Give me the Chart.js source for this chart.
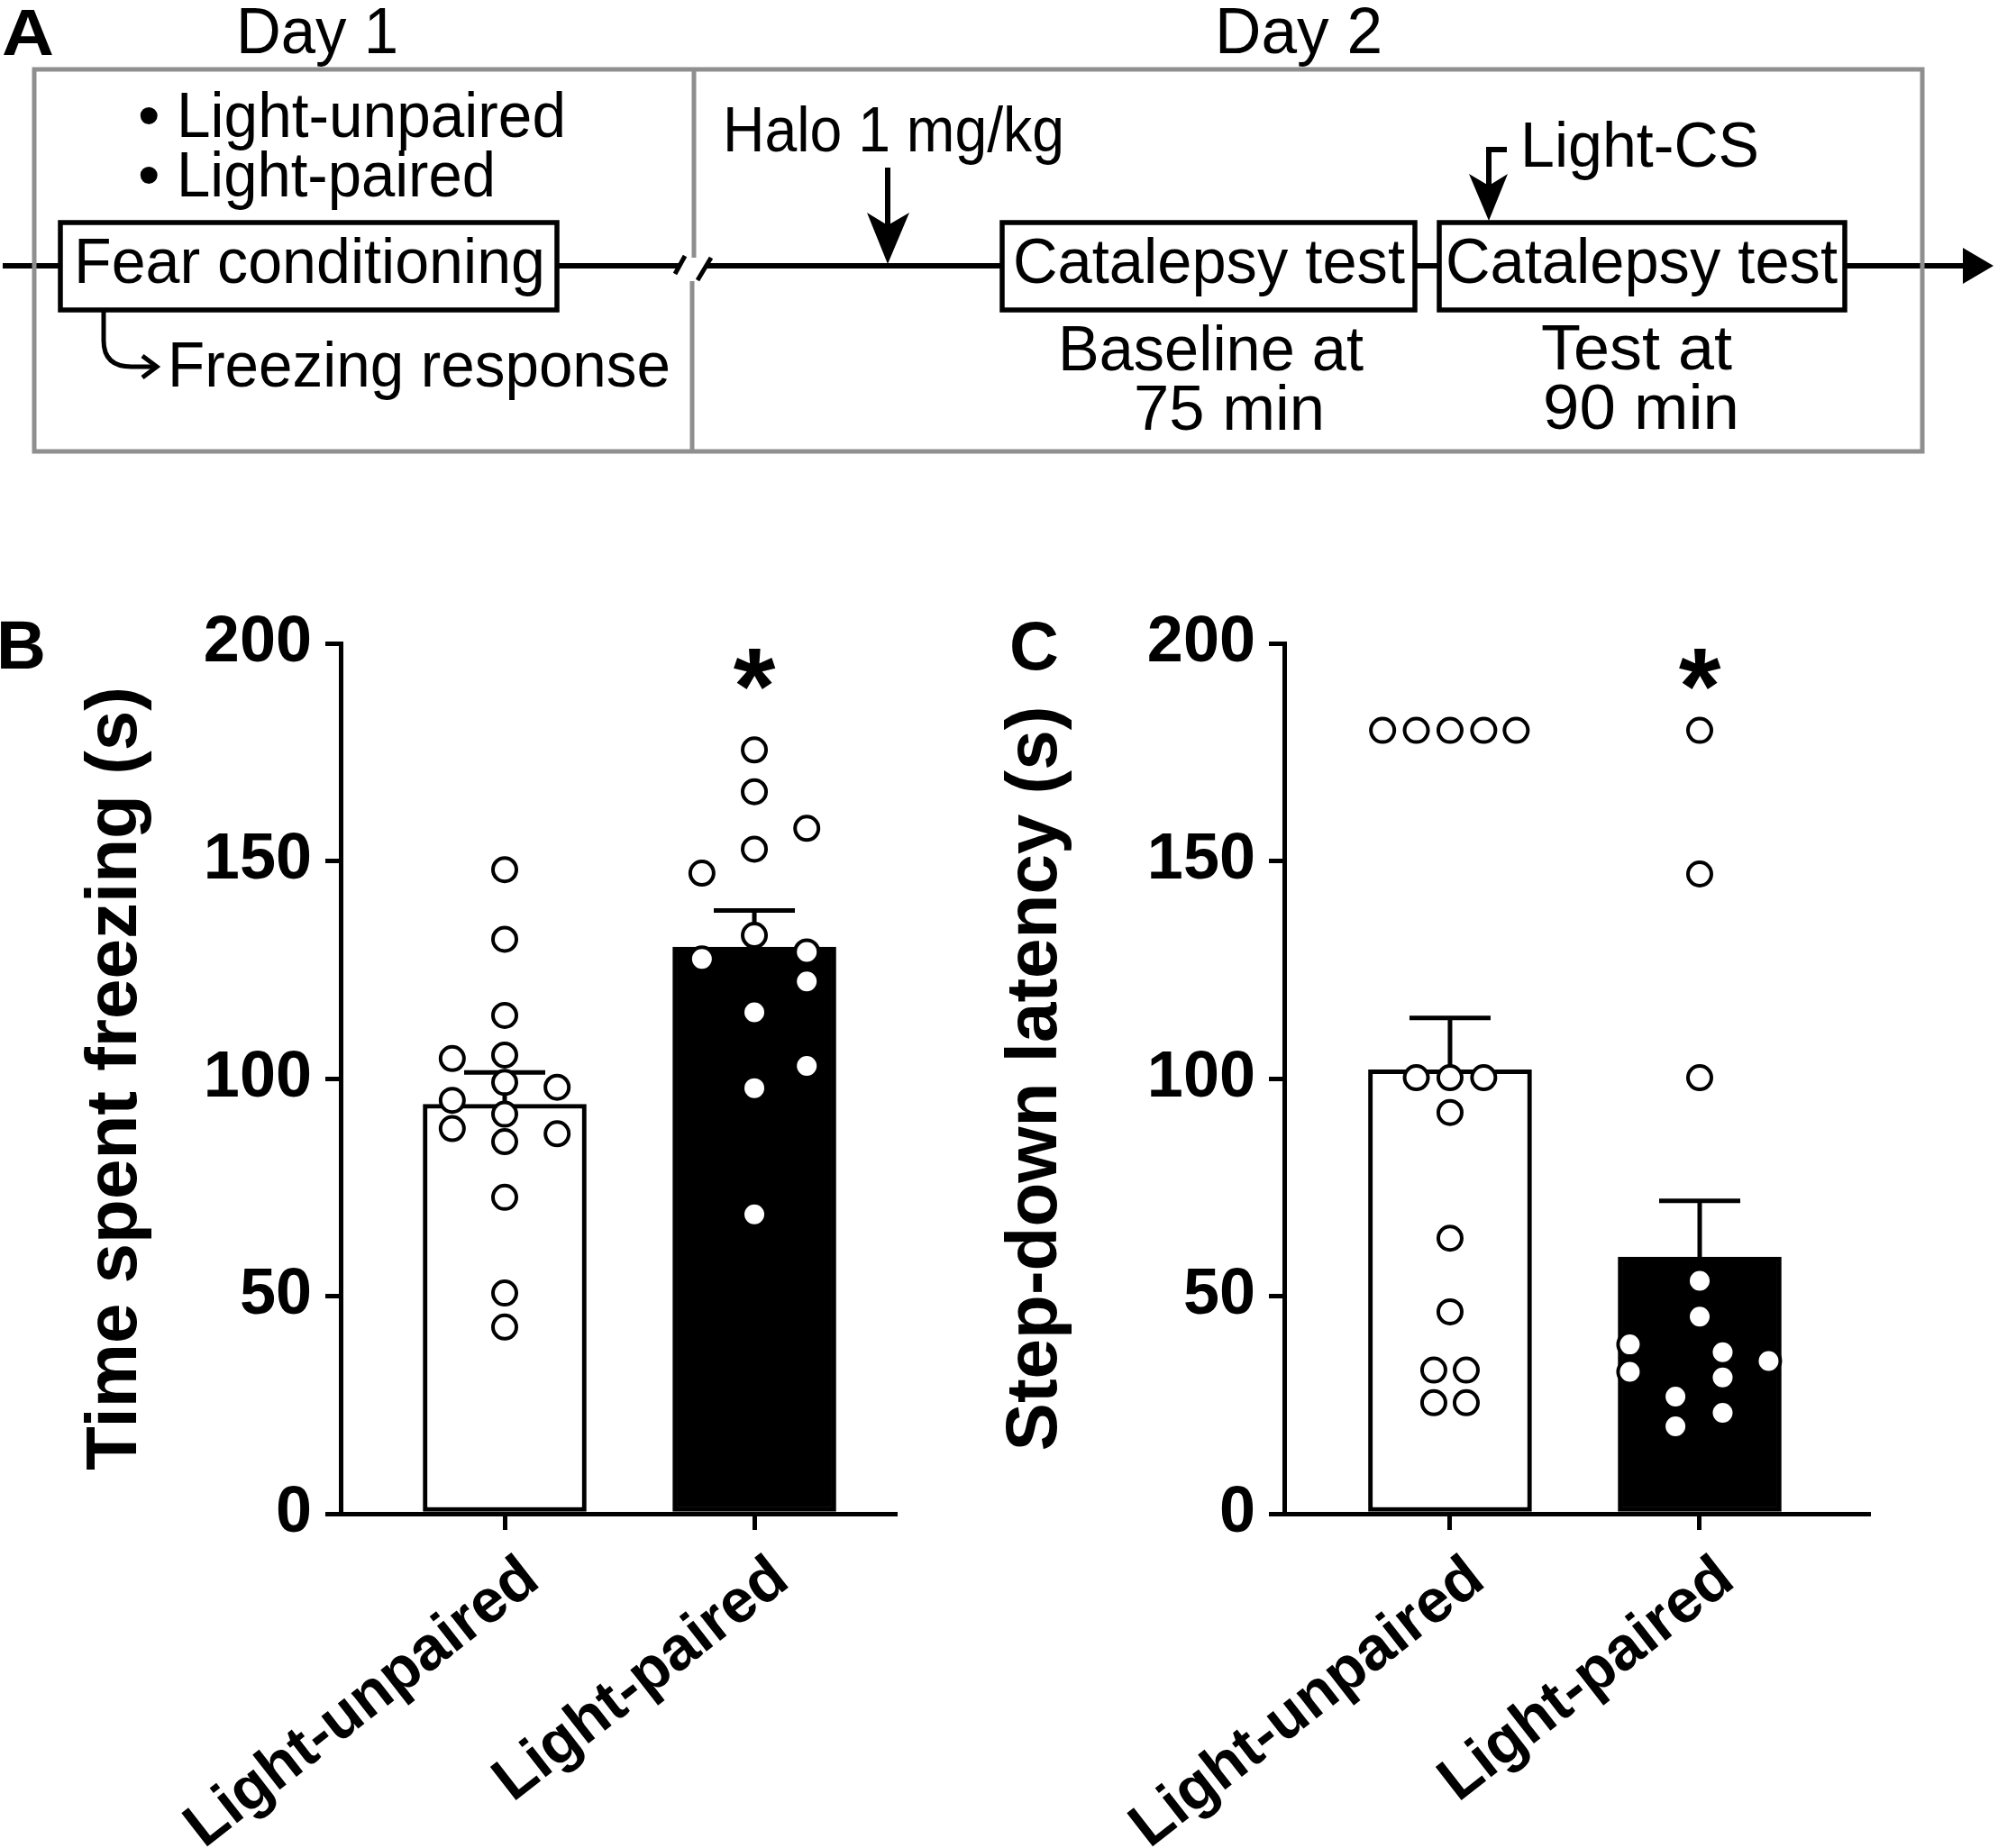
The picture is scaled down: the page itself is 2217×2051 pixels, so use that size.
<!DOCTYPE html>
<html>
<head>
<meta charset="utf-8">
<title>Light-CS fear conditioning and catalepsy</title>
<script src="https://cdn.jsdelivr.net/npm/chart.js@4.4.1/dist/chart.umd.min.js"></script>
<style>
  html, body { margin: 0; padding: 0; background: #fff; }
  #page { position: relative; width: 2217px; height: 2051px; overflow: hidden; }
  #schematic { position: absolute; left: 0; top: 0; font-family: "Liberation Sans", Arial, sans-serif; }
  .panel { position: absolute; top: 600px; }
  #freezeChart { left: 0; }
  #latencyChart { left: 1020px; }
</style>
</head>
<body>
<div id="page">
<svg id="schematic" width="2217" height="2051" xmlns="http://www.w3.org/2000/svg">
  <!-- timeline -->
  <g fill="none" stroke="#000" stroke-width="6">
    <path d="M3 295 H67 M618 295 H753 M784 295 H1112 M1570 295 H1597 M2047 295 H2182"/>
    <path d="M749 304 L760 284 M774 311 L789 286" stroke-width="5"/>
    <rect x="67" y="247" width="551" height="97" stroke-width="5.5"/>
    <rect x="1112" y="247" width="458" height="97" stroke-width="5.5"/>
    <rect x="1597" y="247" width="450" height="97" stroke-width="5.5"/>
    <path d="M115 344 V378 Q115 407 146 407 H172" stroke-width="5"/>
    <path d="M158 395 L174 407 L158 419" stroke-width="5"/>
    <path d="M985 186 V252"/>
    <path d="M1672 166 H1652 V208"/>
  </g>
  <g fill="#000">
    <path d="M2212 295 L2178 275 L2178 315 Z"/>
    <path d="M985 293 L962 236 L985 250 L1009 236 Z"/>
    <path d="M1652 245 L1630 193 L1652 206 L1673 193 Z"/>
  </g>
  <!-- day frames -->
  <g fill="none" stroke="#8f8f8f" stroke-width="5">
    <rect x="38" y="77" width="2095" height="424"/>
    <path d="M770 77 V286 M768 312 V501"/>
  </g>
  <g fill="#000" font-size="70">
    <text x="2" y="61" font-weight="bold" font-size="72" textLength="58" lengthAdjust="spacingAndGlyphs">A</text>
    <text x="262" y="59" font-size="72" textLength="180" lengthAdjust="spacingAndGlyphs">Day 1</text>
    <text x="1348" y="59" font-size="72" textLength="186" lengthAdjust="spacingAndGlyphs">Day 2</text>
    <text x="153" y="152">•</text>
    <text x="196" y="152" textLength="432" lengthAdjust="spacingAndGlyphs">Light-unpaired</text>
    <text x="153" y="218">•</text>
    <text x="196" y="218" textLength="354" lengthAdjust="spacingAndGlyphs">Light-paired</text>
    <text x="82" y="314" textLength="523" lengthAdjust="spacingAndGlyphs">Fear conditioning</text>
    <text x="186" y="429" textLength="558" lengthAdjust="spacingAndGlyphs">Freezing response</text>
    <text x="802" y="168" textLength="379" lengthAdjust="spacingAndGlyphs">Halo 1 mg/kg</text>
    <text x="1124" y="314" textLength="435" lengthAdjust="spacingAndGlyphs">Catalepsy test</text>
    <text x="1604" y="314" textLength="435" lengthAdjust="spacingAndGlyphs">Catalepsy test</text>
    <text x="1687" y="185" textLength="265" lengthAdjust="spacingAndGlyphs">Light-CS</text>
    <text x="1174" y="411" textLength="339" lengthAdjust="spacingAndGlyphs">Baseline at</text>
    <text x="1258" y="477" textLength="212" lengthAdjust="spacingAndGlyphs">75 min</text>
    <text x="1710" y="410" textLength="212" lengthAdjust="spacingAndGlyphs">Test at</text>
    <text x="1712" y="476" textLength="218" lengthAdjust="spacingAndGlyphs">90 min</text>
    <text x="-4" y="742" font-weight="bold" font-size="76">B</text>
    <text x="1120" y="743" font-weight="bold" font-size="76">C</text>
  </g>
</svg>
<canvas id="freezeChart" class="panel" width="1020" height="1451"></canvas>
<canvas id="latencyChart" class="panel" width="1100" height="1451"></canvas>
</div>
<script>
const groups = ['Light-unpaired', 'Light-paired'];
const groupPositions = [1, 2];
const yTicks = [0, 50, 100, 150, 200];

// B: time spent freezing (s)
const freezeMeans = [94.1, 130.2];
const freezeSems = [7.3, 8.4];
const freezeUnpaired = [148, 132, 114.5, 104.6, 105.4, 99.1, 95, 98, 91.8, 88.5, 87.3, 85.5, 72.7, 50.7, 42.9];
const freezeUnpairedJitter = [0, 0, 0, -0.21, 0, 0, -0.21, 0.21, 0, -0.21, 0.21, 0, 0, 0, 0];
const freezePaired = [175.5, 165.9, 157.5, 152.7, 147.2, 132.9, 127.5, 129.1, 122.3, 115.2, 102.9, 97.8, 68.8];
const freezePairedJitter = [0, 0, 0.21, 0, -0.21, 0, -0.21, 0.21, 0.21, 0, 0.21, 0, 0];

// C: step-down latency (s)
const latencyMeans = [102.0, 59.0];
const latencySems = [11.9, 12.9];
const latencyUnpaired = [180, 180, 180, 180, 180, 100.2, 100.2, 100.2, 92.2, 63.3, 46.4, 33, 33, 25.5, 25.5];
const latencyUnpairedJitter = [-0.27, -0.135, 0, 0.135, 0.265, -0.135, 0, 0.135, 0, 0, 0, -0.065, 0.065, -0.065, 0.065];
const latencyPaired = [180, 147, 100.2, 53.5, 45.3, 38.9, 32.6, 37.1, 35.1, 31.3, 26.9, 23.2, 20.1];
const latencyPairedJitter = [0, 0, 0, 0, 0, -0.28, -0.28, 0.092, 0.276, 0.092, -0.097, 0.092, -0.097];

// asterisk over the Light-paired group
const sigGroup = 2;
const sigHeight = 194;

Chart.defaults.font.family = '"Liberation Sans", Arial, sans-serif';
Chart.defaults.color = '#000';

// SEM bars (drawn right after the bars, under the dots) and the asterisk
const semPlugin = {
  id: 'semBars',
  afterDatasetDraw(chart, args, opts) {
    if (args.index !== 0) return;
    const ctx = chart.ctx;
    const x = chart.scales.x, y = chart.scales.y;
    ctx.save();
    ctx.strokeStyle = '#000';
    ctx.lineWidth = 5;
    opts.means.forEach((m, i) => {
      const px = x.getPixelForValue(groupPositions[i]);
      const yb = y.getPixelForValue(m);
      const yt = y.getPixelForValue(m + opts.sems[i]);
      ctx.beginPath();
      ctx.moveTo(px, yb);
      ctx.lineTo(px, yt);
      ctx.moveTo(px - 45, yt);
      ctx.lineTo(px + 45, yt);
      ctx.stroke();
    });
    ctx.restore();
  },
  afterDraw(chart, args, opts) {
    const ctx = chart.ctx;
    const px = chart.scales.x.getPixelForValue(opts.sigX);
    const py = chart.scales.y.getPixelForValue(opts.sigY);
    ctx.save();
    ctx.font = 'bold 120px "Liberation Sans", Arial, sans-serif';
    ctx.textAlign = 'center';
    ctx.textBaseline = 'alphabetic';
    const m = ctx.measureText('*');
    const mid = (m.actualBoundingBoxAscent - m.actualBoundingBoxDescent) / 2;
    ctx.fillStyle = '#000';
    ctx.fillText('*', px, py + mid);
    ctx.restore();
  }
};

function dots(values, jitter, g) {
  return values.map((v, i) => ({ x: groupPositions[g] + jitter[i], y: v }));
}

function dotSet(data) {
  return {
    type: 'scatter',
    data: data,
    order: 1,
    clip: false,
    pointRadius: 13,
    pointHoverRadius: 13,
    pointBorderWidth: 4,
    pointBackgroundColor: '#fff',
    pointBorderColor: '#000'
  };
}

function buildPanel(id, p) {
  return new Chart(document.getElementById(id), {
    type: 'bar',
    data: {
      datasets: [
        {
          type: 'bar',
          data: groupPositions.map((x, i) => ({ x: x, y: p.means[i] })),
          backgroundColor: ['#ffffff', '#000000'],
          borderColor: '#000',
          borderWidth: 5,
          borderSkipped: false,
          barThickness: 181,
          order: 2
        },
        dotSet(p.unpaired),
        dotSet(p.paired)
      ]
    },
    options: {
      responsive: false,
      devicePixelRatio: 1,
      animation: false,
      layout: { padding: { left: 0, top: 114, right: p.padRight, bottom: 0 } },
      plugins: {
        legend: { display: false },
        tooltip: { enabled: false },
        semBars: { means: p.means, sems: p.sems, sigX: sigGroup, sigY: sigHeight }
      },
      scales: {
        x: {
          type: 'linear',
          min: p.xMin,
          max: p.xMax,
          offset: false,
          afterBuildTicks: s => { s.ticks = groupPositions.map(v => ({ value: v })); },
          afterFit: s => { s.height = 371; },
          ticks: {
            autoSkip: false,
            minRotation: 38,
            maxRotation: 38,
            padding: 14,
            labelOffset: 30,
            color: '#000',
            font: { size: 68, weight: 'bold' },
            callback: v => groups[groupPositions.indexOf(v)]
          },
          grid: { offset: false, drawOnChartArea: false, drawTicks: true, tickLength: 18, lineWidth: 5, color: '#000' },
          border: { display: true, width: 5, color: '#000' }
        },
        y: {
          min: 0,
          max: 200,
          afterBuildTicks: s => { s.ticks = yTicks.map(v => ({ value: v })); },
          afterFit: s => { s.width = p.yWidth; },
          ticks: { padding: 15, color: '#000', font: { size: 72, weight: 'bold' } },
          grid: { drawOnChartArea: false, drawTicks: true, tickLength: 17, lineWidth: 5, color: '#000' },
          border: { display: true, width: 5, color: '#000' },
          title: {
            display: true,
            text: p.title,
            color: '#000',
            font: { size: 80, weight: 'bold' },
            padding: { top: p.titlePad, bottom: 0 }
          }
        }
      }
    },
    plugins: [semPlugin]
  });
}

buildPanel('freezeChart', {
  title: 'Time spent freezing (s)',
  means: freezeMeans,
  sems: freezeSems,
  unpaired: dots(freezeUnpaired, freezeUnpairedJitter, 0),
  paired: dots(freezePaired, freezePairedJitter, 1),
  xMin: 0.343,
  xMax: 2.563,
  yWidth: 378,
  padRight: 27,
  titlePad: 81
});

buildPanel('latencyChart', {
  title: 'Step-down latency (s)',
  means: latencyMeans,
  sems: latencySems,
  unpaired: dots(latencyUnpaired, latencyUnpairedJitter, 0),
  paired: dots(latencyPaired, latencyPairedJitter, 1),
  xMin: 0.336,
  xMax: 2.675,
  yWidth: 405,
  padRight: 47,
  titlePad: 82
});
</script>
</body>
</html>
